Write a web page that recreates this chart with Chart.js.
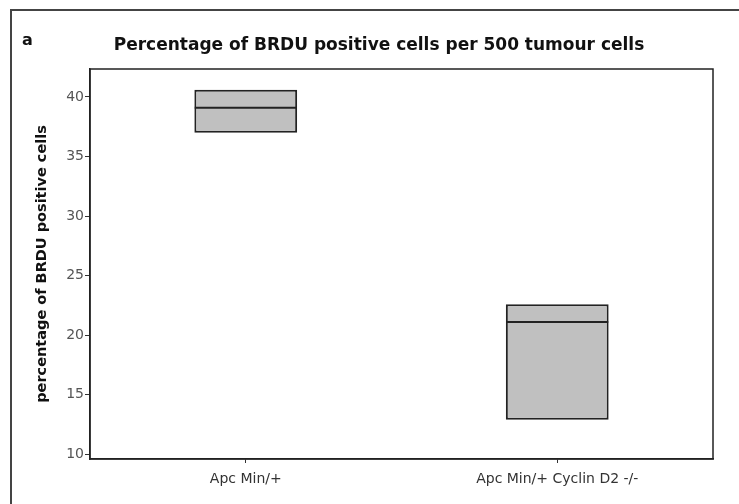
<!DOCTYPE html>
<html>
<head>
<meta charset="utf-8">
<script src="https://cdn.jsdelivr.net/npm/chart.js@4/dist/chart.umd.min.js"></script>
<style>
  html, body { margin: 0; padding: 0; background: #fff; }
  #wrap { width: 739px; height: 504px; position: relative; }
</style>
</head>
<body>
<div id="wrap"><canvas id="c" width="739" height="504"></canvas></div>
<script>
const categories = ["Apc Min/+", "Apc Min/+ Cyclin D2 -/-"];
const boxLow = [37.0, 12.9];
const boxHigh = [40.6, 22.6];
const medians = [39.1, 21.1];
const yTicks = [10, 15, 20, 25, 30, 35, 40];
const titleText = "Percentage of BRDU positive cells per 500 tumour cells";
const yTitle = "percentage of BRDU positive cells";
const panelLabel = "a";

const FONT = "'DejaVu Sans', Verdana, sans-serif";

const framePlugin = {
  id: 'frames',
  beforeDraw(chart) {
    const ctx = chart.ctx;
    ctx.save();
    ctx.fillStyle = '#fff';
    ctx.fillRect(0, 0, chart.width, chart.height);
    ctx.strokeStyle = '#444';
    ctx.lineWidth = 2;
    ctx.strokeRect(11, 10, 800, 600);
    ctx.restore();
  },
  afterDraw(chart) {
    const ctx = chart.ctx;
    const a = chart.chartArea;
    ctx.save();
    ctx.strokeStyle = '#222';
    ctx.lineWidth = 1.5;
    ctx.strokeRect(a.left, a.top, a.right - a.left, a.bottom - a.top);
    ctx.fillStyle = '#111';
    ctx.textBaseline = 'middle';
    ctx.font = "bold 16px " + FONT;
    ctx.textAlign = 'left';
    ctx.fillText(panelLabel, 22, 41);
    ctx.font = "bold 17px " + FONT;
    ctx.textAlign = 'center';
    ctx.fillText(titleText, 379, 46);
    ctx.restore();
  }
};

new Chart(document.getElementById('c'), {
  data: {
    labels: categories,
    datasets: [
      {
        type: 'bar',
        data: categories.map((_, i) => [boxLow[i], boxHigh[i]]),
        backgroundColor: '#c0c0c0',
        borderColor: '#222',
        borderWidth: 2,
        borderSkipped: false,
        barPercentage: 0.33,
        categoryPercentage: 1.0,
        order: 2
      },
      {
        type: 'line',
        data: medians,
        showLine: false,
        pointStyle: 'line',
        pointRadius: 51,
        pointHoverRadius: 51,
        pointBorderWidth: 2,
        borderColor: '#222',
        backgroundColor: '#222',
        clip: false,
        order: 1
      }
    ]
  },
  options: {
    responsive: false,
    animation: false,
    events: [],
    layout: { autoPadding: false, padding: { left: 0, right: 26, top: 69, bottom: 0 } },
    plugins: {
      legend: { display: false },
      tooltip: { enabled: false },
      title: { display: false }
    },
    scales: {
      x: {
        type: 'category',
        offset: true,
        afterFit(s) { s.height = 45; s.paddingLeft = 0; s.paddingRight = 0; },
        grid: { display: true, drawOnChartArea: false, drawTicks: true, tickLength: 4, color: '#333', offset: false },
        border: { display: true, color: '#222', width: 1.5 },
        ticks: { color: '#333', padding: 7.5, font: { family: FONT, size: 14, lineHeight: 1.2 }, maxRotation: 0, autoSkip: false }
      },
      y: {
        type: 'linear',
        min: 9.6,
        max: 42.35,
        afterFit(s) { s.width = 90; s.paddingTop = 0; s.paddingBottom = 0; },
        afterBuildTicks(s) { s.ticks = yTicks.map(v => ({ value: v })); },
        grid: { display: true, drawOnChartArea: false, drawTicks: true, tickLength: 5, color: '#333' },
        border: { display: true, color: '#222', width: 1.5 },
        ticks: { color: '#555', padding: 1, font: { family: FONT, size: 14 } },
        title: {
          display: true,
          text: yTitle,
          color: '#111',
          font: { family: FONT, size: 14.5, weight: 'bold', lineHeight: 1.2 },
          padding: { top: 34, bottom: 0 }
        }
      }
    }
  },
  plugins: [framePlugin]
});
</script>
</body>
</html>
